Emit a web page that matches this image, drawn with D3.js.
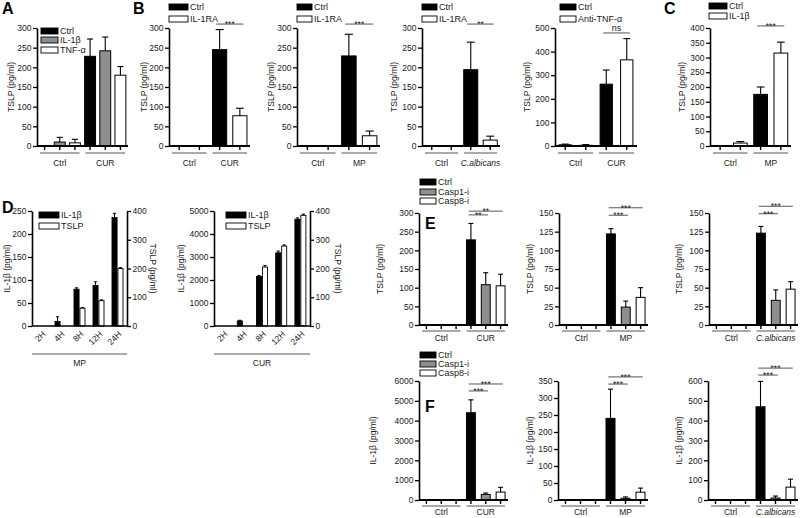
<!DOCTYPE html>
<html><head><meta charset="utf-8">
<script src="https://cdn.jsdelivr.net/npm/d3@7"></script>
<style>
body{margin:0;background:#fff}
svg{display:block}
text{font-family:"Liberation Sans",Arial,sans-serif;fill:#1a1a1a}
</style>
</head><body>
<svg id="chart" width="800" height="518"></svg>
<script>
// ---------- DATA ----------
const ticks300 = [0,50,100,150,200,250,300];
const ticks500 = [0,100,200,300,400,500];
const ticks400s50 = [0,50,100,150,200,250,300,350,400];
const ticks250 = [0,50,100,150,200,250];
const ticks5000 = [0,1000,2000,3000,4000,5000];
const ticks400 = [0,100,200,300,400];
const ticks150 = [0,25,50,75,100,125,150];
const ticks6000 = [0,1000,2000,3000,4000,5000,6000];
const ticks350 = [0,50,100,150,200,250,300,350];
const ticks600 = [0,100,200,300,400,500,600];

// Panel A
const A_groups = ["Ctrl","CUR"];
const A_series = ["Ctrl","IL-1β","TNF-α"];
const A_values = [[0,10,8],[228,242,180]];
const A_errors = [[0,12,9],[44,35,22]];

// Panel B
const B1_groups = ["Ctrl","CUR"];
const B1_series = ["Ctrl","IL-1RA"];
const B1_values = [[0,0],[245,77]];
const B1_errors = [[0,0],[51,19]];
const B1_sig = [[2,3,310,"***"]];

const B2_groups = ["Ctrl","MP"];
const B2_series = ["Ctrl","IL-1RA"];
const B2_values = [[0,0],[229,26]];
const B2_errors = [[0,0],[55,12]];
const B2_sig = [[2,3,310,"***"]];

const B3_groups = ["Ctrl","C.albicans"];
const B3_series = ["Ctrl","IL-1RA"];
const B3_values = [[0,0],[194,15]];
const B3_errors = [[0,0],[70,10]];
const B3_sig = [[2,3,310,"**"]];

const B4_groups = ["Ctrl","CUR"];
const B4_series = ["Ctrl","Anti-TNF-α"];
const B4_values = [[5,3],[262,365]];
const B4_errors = [[3,3],[60,90]];
const B4_sig = [[2,3,479,"ns"]];

// Panel C
const C_groups = ["Ctrl","MP"];
const C_series = ["Ctrl","IL-1β"];
const C_values = [[0,10],[175,315]];
const C_errors = [[0,5],[25,37]];
const C_sig = [[2,3,407,"***"]];

// Panel D
const D_times = ["2H","4H","8H","12H","24H"];
const D_series = ["IL-1β","TSLP"];
const D1_il1b = [0,10,80,88,236];
const D1_il1b_err = [0,10,3,8,9];
const D1_tslp = [0,0,62,88,200];
const D1_tslp_err = [0,0,2,3,3];
const D2_il1b = [0,220,2150,3180,4640];
const D2_il1b_err = [0,30,50,80,60];
const D2_tslp = [0,0,205,278,385];
const D2_tslp_err = [0,0,5,4,4];

// Panels E, F
const EF_series = ["Ctrl","Casp1-i","Casp8-i"];
const E1_groups = ["Ctrl","CUR"];
const E1_values = [[0,0,0],[228,108,105]];
const E1_errors = [[0,0,0],[44,32,31]];
const E1_sig = [[3,4,295,"**"],[3,5,305,"**"]];
const E2_groups = ["Ctrl","MP"];
const E2_values = [[0,0,0],[122,24,37]];
const E2_errors = [[0,0,0],[7,8,13]];
const E2_sig = [[3,4,147,"***"],[3,5,157,"***"]];
const E3_groups = ["Ctrl","C.albicans"];
const E3_values = [[0,0,0],[123,33,48]];
const E3_errors = [[0,0,0],[9,14,10]];
const E3_sig = [[3,4,149,"***"],[3,5,159,"***"]];

const F1_groups = ["Ctrl","CUR"];
const F1_values = [[0,0,0],[4400,280,400]];
const F1_errors = [[0,0,0],[650,70,240]];
const F1_sig = [[3,4,5500,"***"],[3,5,5850,"***"]];
const F2_groups = ["Ctrl","MP"];
const F2_values = [[0,0,0],[240,5,23]];
const F2_errors = [[0,0,0],[86,4,12]];
const F2_sig = [[3,4,341,"***"],[3,5,362,"***"]];
const F3_groups = ["Ctrl","C.albicans"];
const F3_values = [[0,0,0],[470,10,65]];
const F3_errors = [[0,0,0],[128,10,40]];
const F3_sig = [[3,4,630,"***"],[3,5,665,"***"]];

// ---------- DRAWING ----------
const svg = d3.select("#chart");
const FS = 8.5;
const GRAY = "#8e8e8e";
const fmt = d3.format("d");

function styleAxis(ax){
  ax.attr("font-family",null).attr("font-size",null);
  ax.select(".domain").attr("stroke","#000").attr("stroke-width",1.6);
  ax.selectAll(".tick line").attr("stroke","#000").attr("stroke-width",1.3);
  ax.selectAll(".tick text").attr("font-size",FS).attr("fill","#1a1a1a");
}

function yLabel(text, x, y, rot){
  svg.append("text").attr("transform",`translate(${x},${y}) rotate(${rot})`)
    .attr("text-anchor","middle").attr("dominant-baseline","middle")
    .attr("font-size",FS).text(text);
}

function legend(lx, ys, w, series, fills){
  const g = svg.append("g");
  series.forEach((s,i)=>{
    g.append("rect").attr("x",lx).attr("y",ys[i]-3).attr("width",w).attr("height",6)
      .attr("fill",fills[i]).attr("stroke","#000").attr("stroke-width",0.9);
    g.append("text").attr("x",lx+w+2).attr("y",ys[i]+3.2).attr("font-size",9).text(s);
  });
}

function letter(t,x,y){
  svg.append("text").attr("x",x).attr("y",y).attr("font-size",16).attr("font-weight","bold").style("fill","#000").text(t);
}

function grouped(cfg){
  const g = svg.append("g");
  const ns = cfg.series.length;
  const slots = [];
  cfg.groups.forEach((gr,gi)=>cfg.series.forEach((s,si)=>
    slots.push({i:slots.length, gi, si, v:cfg.values[gi][si], e:cfg.errors[gi][si]})));
  const p = 1 - cfg.barFrac;
  const x = d3.scaleBand().domain(d3.range(slots.length)).range([cfg.x0,cfg.x1]).paddingInner(p).paddingOuter(p/2);
  const bw = x.bandwidth(), step = x.step();
  const cx = i => x(i) + bw/2;
  const y = d3.scaleLinear().domain([0,cfg.max]).range([cfg.yZero,cfg.yTop]);

  g.selectAll("rect.bar").data(slots.filter(d=>d.v>0)).join("rect")
    .attr("x",d=>x(d.i)).attr("y",d=>y(d.v)).attr("width",bw).attr("height",d=>y(0)-y(d.v))
    .attr("fill",d=>cfg.fills[d.si]).attr("stroke","#000").attr("stroke-width",1);
  const eb = slots.filter(d=>d.e>0);
  const cap = bw*0.28;
  g.selectAll("line.err").data(eb).join("line")
    .attr("x1",d=>cx(d.i)).attr("x2",d=>cx(d.i)).attr("y1",d=>y(d.v)).attr("y2",d=>y(d.v+d.e))
    .attr("stroke","#000").attr("stroke-width",1.1);
  g.selectAll("line.cap").data(eb).join("line")
    .attr("x1",d=>cx(d.i)-cap).attr("x2",d=>cx(d.i)+cap).attr("y1",d=>y(d.v+d.e)).attr("y2",d=>y(d.v+d.e))
    .attr("stroke","#000").attr("stroke-width",1.1);

  const ax = g.append("g").attr("transform",`translate(${cfg.x0},0)`)
    .call(d3.axisLeft(y).tickValues(cfg.ticks).tickFormat(fmt).tickSize(4).tickSizeOuter(0).tickPadding(1.5));
  styleAxis(ax);
  g.append("line").attr("x1",cfg.x0).attr("x2",cfg.x1).attr("y1",y(0)).attr("y2",y(0))
    .attr("stroke","#000").attr("stroke-width",2);
  g.selectAll("line.xt").data(slots).join("line")
    .attr("x1",d=>cx(d.i)).attr("x2",d=>cx(d.i)).attr("y1",y(0)).attr("y2",y(0)+4)
    .attr("stroke","#000").attr("stroke-width",1.4);
  cfg.groups.forEach((gr,gi)=>{
    const a = x(gi*ns) - (step-bw)/2, b = x(gi*ns+ns-1) + bw + (step-bw)/2;
    g.append("line").attr("x1",a+3).attr("x2",b-3).attr("y1",y(0)+cfg.ulOff).attr("y2",y(0)+cfg.ulOff)
      .attr("stroke","#555").attr("stroke-width",1);
    g.append("text").attr("x",(a+b)/2).attr("y",y(0)+cfg.lblOff).attr("text-anchor","middle")
      .attr("font-size",FS).attr("font-style",gr.indexOf("albicans")>=0?"italic":null).text(gr);
  });
  (cfg.sig||[]).forEach(([a,b,v,lab])=>{
    const xa = cx(a)-bw*0.25, xb = cx(b)+bw*0.25;
    g.append("line").attr("x1",xa).attr("x2",xb).attr("y1",y(v)).attr("y2",y(v))
      .attr("stroke","#555").attr("stroke-width",1);
    g.append("text").attr("x",(xa+xb)/2).attr("y",lab==="ns"? y(v)-1.5 : y(v)+3)
      .attr("text-anchor","middle").attr("font-size",lab==="ns"?9:8.5).text(lab);
  });
  yLabel(cfg.ylabel, cfg.ylabelX, (cfg.yZero+cfg.yTop)/2, -90);
  if (cfg.legend) legend(cfg.legend.x, cfg.legend.ys, cfg.legend.w, cfg.series, cfg.fills);
}

function dual(cfg){
  const g = svg.append("g");
  const x = d3.scaleBand().domain(cfg.cats).range([cfg.x0,cfg.x1]);
  const inner = d3.scaleBand().domain(D_series).range([-5.5,5.5]).paddingInner(0.15);
  const yL = d3.scaleLinear().domain([0,cfg.maxL]).range([cfg.yZero,cfg.yTop]);
  const yR = d3.scaleLinear().domain([0,cfg.maxR]).range([cfg.yZero,cfg.yTop]);
  const rows = [];
  cfg.cats.forEach((c,i)=>{
    rows.push({c, s:"IL-1β", v:cfg.left[i], e:cfg.leftErr[i], y:yL, fill:"#000"});
    rows.push({c, s:"TSLP", v:cfg.right[i], e:cfg.rightErr[i], y:yR, fill:"#fff"});
  });
  const cxr = d => x(d.c) + x.bandwidth()/2 + inner(d.s);
  const bw = inner.bandwidth();
  const vis = rows.filter(d=>d.v>0);
  g.selectAll("rect").data(vis).join("rect")
    .attr("x",cxr).attr("y",d=>d.y(d.v)).attr("width",bw).attr("height",d=>d.y(0)-d.y(d.v))
    .attr("fill",d=>d.fill).attr("stroke","#000").attr("stroke-width",0.9);
  const eb = rows.filter(d=>d.e>0);
  g.selectAll("line.err").data(eb).join("line")
    .attr("x1",d=>cxr(d)+bw/2).attr("x2",d=>cxr(d)+bw/2).attr("y1",d=>d.y(d.v)).attr("y2",d=>d.y(d.v+d.e))
    .attr("stroke","#000").attr("stroke-width",1);
  g.selectAll("line.cap").data(eb).join("line")
    .attr("x1",d=>cxr(d)+bw/2-1.6).attr("x2",d=>cxr(d)+bw/2+1.6).attr("y1",d=>d.y(d.v+d.e)).attr("y2",d=>d.y(d.v+d.e))
    .attr("stroke","#000").attr("stroke-width",1);
  const axL = g.append("g").attr("transform",`translate(${cfg.x0},0)`)
    .call(d3.axisLeft(yL).tickValues(cfg.ticksL).tickFormat(fmt).tickSize(4).tickSizeOuter(0).tickPadding(1.5));
  styleAxis(axL);
  const axR = g.append("g").attr("transform",`translate(${cfg.x1},0)`)
    .call(d3.axisRight(yR).tickValues(cfg.ticksR).tickFormat(fmt).tickSize(4).tickSizeOuter(0).tickPadding(1.5));
  styleAxis(axR);
  g.append("line").attr("x1",cfg.x0).attr("x2",cfg.x1).attr("y1",cfg.yZero).attr("y2",cfg.yZero)
    .attr("stroke","#000").attr("stroke-width",1.6);
  g.selectAll("text.cat").data(cfg.cats).join("text").attr("class","cat")
    .attr("transform",d=>`translate(${x(d)+x.bandwidth()/2+3},${cfg.yZero+7}) rotate(-45)`)
    .attr("text-anchor","end").attr("dominant-baseline","middle").attr("font-size",FS).text(d=>d);
  g.append("line").attr("x1",cfg.x0).attr("x2",cfg.x1).attr("y1",cfg.yZero+28).attr("y2",cfg.yZero+28)
    .attr("stroke","#555").attr("stroke-width",1);
  g.append("text").attr("x",(cfg.x0+cfg.x1)/2).attr("y",cfg.yZero+40).attr("text-anchor","middle")
    .attr("font-size",FS).text(cfg.group);
  yLabel("IL-1β (pg/ml)", cfg.lLabelX, (cfg.yZero+cfg.yTop)/2, -90);
  yLabel("TSLP (pg/ml)", cfg.rLabelX, (cfg.yZero+cfg.yTop)/2, 90);
  legend(cfg.legendX, [215,226], 20, D_series, ["#000","#fff"]);
}

// A
grouped({x0:37,x1:128,yTop:28,yZero:146,max:300,ticks:ticks300,groups:A_groups,series:A_series,
  values:A_values,errors:A_errors,fills:["#000",GRAY,"#fff"],barFrac:0.72,ulOff:7,lblOff:20,
  ylabel:"TSLP (pg/ml)",ylabelX:12,legend:{x:41,ys:[31,40,50],w:17}});
// B
grouped({x0:169,x1:250,yTop:28,yZero:146,max:300,ticks:ticks300,groups:B1_groups,series:B1_series,
  values:B1_values,errors:B1_errors,fills:["#000","#fff"],barFrac:0.7,ulOff:7,lblOff:20,sig:B1_sig,
  ylabel:"TSLP (pg/ml)",ylabelX:145,legend:{x:169,ys:[7,19],w:19}});
grouped({x0:297,x1:380,yTop:28,yZero:146,max:300,ticks:ticks300,groups:B2_groups,series:B2_series,
  values:B2_values,errors:B2_errors,fills:["#000","#fff"],barFrac:0.7,ulOff:7,lblOff:20,sig:B2_sig,
  ylabel:"TSLP (pg/ml)",ylabelX:272,legend:{x:297,ys:[7,19],w:15}});
grouped({x0:422,x1:500,yTop:28,yZero:146,max:300,ticks:ticks300,groups:B3_groups,series:B3_series,
  values:B3_values,errors:B3_errors,fills:["#000","#fff"],barFrac:0.72,ulOff:7,lblOff:20,sig:B3_sig,
  ylabel:"TSLP (pg/ml)",ylabelX:395,legend:{x:422,ys:[7,19],w:15}});
grouped({x0:555,x1:637,yTop:28,yZero:146,max:500,ticks:ticks500,groups:B4_groups,series:B4_series,
  values:B4_values,errors:B4_errors,fills:["#000","#fff"],barFrac:0.6,ulOff:7,lblOff:20,sig:B4_sig,
  ylabel:"TSLP (pg/ml)",ylabelX:528,legend:{x:560,ys:[7,19],w:16}});
// C
grouped({x0:710,x1:791,yTop:28,yZero:146,max:400,ticks:ticks400s50,groups:C_groups,series:C_series,
  values:C_values,errors:C_errors,fills:["#000","#fff"],barFrac:0.68,ulOff:7,lblOff:20,sig:C_sig,
  ylabel:"TSLP (pg/ml)",ylabelX:683,legend:{x:709,ys:[6,16],w:18}});
// D
dual({x0:32,x1:127,yTop:211,yZero:326,maxL:250,maxR:400,ticksL:ticks250,ticksR:ticks400,cats:D_times,
  left:D1_il1b,leftErr:D1_il1b_err,right:D1_tslp,rightErr:D1_tslp_err,group:"MP",
  lLabelX:8,rLabelX:152,legendX:39});
dual({x0:214,x1:310,yTop:211,yZero:326,maxL:5000,maxR:400,ticksL:ticks5000,ticksR:ticks400,cats:D_times,
  left:D2_il1b,leftErr:D2_il1b_err,right:D2_tslp,rightErr:D2_tslp_err,group:"CUR",
  lLabelX:182,rLabelX:337,legendX:226});
// E
const EF_fills = ["#000",GRAY,"#fff"];
grouped({x0:419,x1:508,yTop:213,yZero:325,max:300,ticks:ticks300,groups:E1_groups,series:EF_series,
  values:E1_values,errors:E1_errors,fills:EF_fills,barFrac:0.6,ulOff:6,lblOff:16,sig:E1_sig,
  ylabel:"TSLP (pg/ml)",ylabelX:381,legend:{x:420,ys:[182,192,201],w:16}});
grouped({x0:559,x1:648,yTop:213,yZero:325,max:150,ticks:ticks150,groups:E2_groups,series:EF_series,
  values:E2_values,errors:E2_errors,fills:EF_fills,barFrac:0.6,ulOff:6,lblOff:16,sig:E2_sig,
  ylabel:"TSLP (pg/ml)",ylabelX:531});
grouped({x0:709,x1:798,yTop:213,yZero:325,max:150,ticks:ticks150,groups:E3_groups,series:EF_series,
  values:E3_values,errors:E3_errors,fills:EF_fills,barFrac:0.6,ulOff:6,lblOff:16,sig:E3_sig,
  ylabel:"TSLP (pg/ml)",ylabelX:680});
// F
grouped({x0:419,x1:508,yTop:381,yZero:500,max:6000,ticks:ticks6000,groups:F1_groups,series:EF_series,
  values:F1_values,errors:F1_errors,fills:EF_fills,barFrac:0.6,ulOff:6,lblOff:15,sig:F1_sig,
  ylabel:"IL-1β (pg/ml)",ylabelX:374,legend:{x:420,ys:[355,364,373],w:16}});
grouped({x0:558,x1:648,yTop:381,yZero:500,max:350,ticks:ticks350,groups:F2_groups,series:EF_series,
  values:F2_values,errors:F2_errors,fills:EF_fills,barFrac:0.6,ulOff:6,lblOff:15,sig:F2_sig,
  ylabel:"IL-1β (pg/ml)",ylabelX:531});
grouped({x0:708,x1:798,yTop:381,yZero:500,max:600,ticks:ticks600,groups:F3_groups,series:EF_series,
  values:F3_values,errors:F3_errors,fills:EF_fills,barFrac:0.6,ulOff:6,lblOff:15,sig:F3_sig,
  ylabel:"IL-1β (pg/ml)",ylabelX:680});

letter("A",2,14); letter("B",133,14); letter("C",664,14);
letter("D",2,213); letter("E",425,229); letter("F",425,412);
</script>
</body></html>
